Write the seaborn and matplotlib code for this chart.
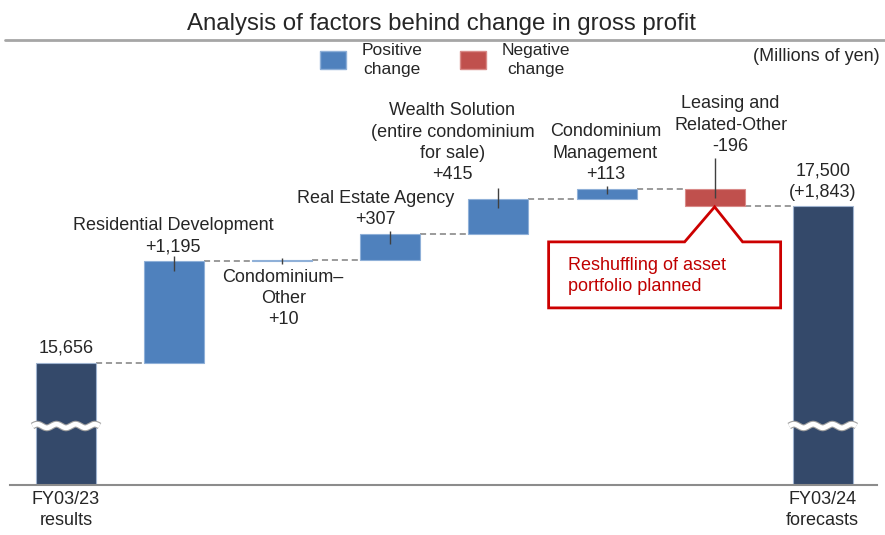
import numpy as np
import matplotlib
matplotlib.use("Agg")
import matplotlib.pyplot as plt
from matplotlib.patches import Polygon, Patch
from matplotlib.lines import Line2D
import seaborn as sns

# data
steps = [
    "FY03/23 results",
    "Residential Development",
    "Condominium–Other",
    "Real Estate Agency",
    "Wealth Solution",
    "Condominium Management",
    "Leasing and Related-Other",
    "FY03/24 forecasts",
]
start_value = 15656
changes = [1195, 10, 307, 415, 113, -196]
end_value = 17500

change_labels = [
    "Residential Development\n+1,195",
    "Condominium–\nOther\n+10",
    "Real Estate Agency\n+307",
    "Wealth Solution\n(entire condominium\nfor sale)\n+415",
    "Condominium\nManagement\n+113",
    "Leasing and\nRelated-Other\n-196",
]
total_labels = ["15,656", "17,500\n(+1,843)"]
tick_labels = ["FY03/23\nresults", "", "", "", "", "", "", "FY03/24\nforecasts"]

NAVY = "#34496A"
BLUE = "#4F81BD"
RED = "#C0504D"
TXT = "#262626"
GREY = "#808080"
CALLOUT = "#CC0000"

# waterfall geometry (the value axis is broken, bars start at `floor`)
floor = 14224
levels = np.concatenate([[start_value], start_value + np.cumsum(changes)])
bottoms = np.array([floor] + [min(levels[i], levels[i + 1]) for i in range(len(changes))] + [floor])
heights = np.array([start_value - floor] + [abs(c) for c in changes] + [end_value - floor])
tops = bottoms + heights
colors = [NAVY] + [BLUE if c > 0 else RED for c in changes] + [NAVY]

sns.set_theme(style="white")
plt.rcParams["font.family"] = ["Liberation Sans", "DejaVu Sans"]

W, H = 885, 535
fig = plt.figure(figsize=(W / 100, H / 100), dpi=100)
ax = fig.add_axes([10 / W, 50 / H, 867 / W, 485 / H])

bar_w = 0.555
sns.barplot(x=steps, y=heights, bottom=bottoms, width=bar_w, color=BLUE,
            errorbar=None, ax=ax, zorder=3)
for p, c in zip(ax.patches, colors):
    p.set_facecolor(c)
    p.set_edgecolor("#9FB3CF" if c == NAVY else "#8FB0D8" if c == BLUE else "#D98A88")
    p.set_linewidth(0.8)

# scale: pixels -> data units
ypx = 1 / 0.0852
xpx = 1 / 108.1
ax.set_xlim(-0.518, 7.502)
ax.set_ylim(floor, floor + 485 * ypx)

# dashed connectors
x0 = np.arange(len(levels)) + bar_w / 2
x1 = np.arange(1, len(levels) + 1) - bar_w / 2
ax.hlines(levels, x0, x1, colors=GREY, linestyles=(0, (4, 2.5)), lw=1.1, zorder=2)

# leader lines from labels into the bars
up_px = [5, 2, 3, 11, 3, 31]
for k in range(len(changes)):
    i = k + 1
    top = tops[i]
    hpx = heights[i] / ypx
    down = max(min(9.5, hpx / 2), 4)
    ax.vlines(i, top - down * ypx, top + up_px[k] * ypx, colors="#404040", lw=1, zorder=4)

LS = 1.33
# change labels
dx_px = [-1, 1, -15, -46, -1, 16]
dy_px = [25, -38, 25.5, 56, 36, 64]
for k, lab in enumerate(change_labels):
    i = k + 1
    ax.text(i + dx_px[k] * xpx, tops[i] + dy_px[k] * ypx, lab, ha="center", va="center",
            fontsize=13, color=TXT, linespacing=LS, zorder=5)

# total labels
ax.text(0, tops[0] + 15 * ypx, total_labels[0], ha="center", va="center", fontsize=13, color=TXT)
ax.text(7, tops[7] + 24.5 * ypx, total_labels[1], ha="center", va="center", fontsize=13,
        color=TXT, linespacing=LS)

# axis break marks on the total bars
brk = floor + 59 * ypx
for i in (0, 7):
    xs = np.linspace(i - 0.31, i + 0.31, 200)
    ys = brk + 1.8 * ypx * np.sin((xs - i + 0.31) / 0.62 * 3.5 * 2 * np.pi)
    ax.plot(xs, ys, color="#A0A0A0", lw=5.0, zorder=6, solid_capstyle="butt")
    ax.plot(xs, ys, color="white", lw=3.4, zorder=7, solid_capstyle="butt")

# callout
tipx, tipy = 6, bottoms[6] - 1 * ypx
pts = [(-166, 35), (-30, 35), (0, 0), (28, 35), (66, 35), (66, 101), (-166, 101)]
poly = Polygon([(tipx + a * xpx, tipy - b * ypx) for a, b in pts], closed=True,
               facecolor="white", edgecolor=CALLOUT, lw=2, zorder=8, joinstyle="miter")
ax.add_patch(poly)
ax.text(tipx - 147 * xpx, tipy - 69 * ypx, "Reshuffling of asset\nportfolio planned",
        ha="left", va="center", fontsize=13, color="#C00000", linespacing=LS, zorder=9)

# axes styling
ax.set_yticks([])
ax.set_xticks(range(len(steps)))
ax.set_xticklabels(tick_labels, fontsize=13, color=TXT, linespacing=LS)
ax.tick_params(axis="x", length=0, pad=4)
for s in ["top", "left", "right"]:
    ax.spines[s].set_visible(False)
ax.spines["bottom"].set_color("#8C8C8C")
ax.spines["bottom"].set_linewidth(1.5)
ax.spines["bottom"].set_zorder(5)
ax.set_xlabel("")
ax.set_ylabel("")

# header
fig.text(441 / W, 1 - 24 / H, "Analysis of factors behind change in gross profit",
         ha="center", va="center", fontsize=17.3, color=TXT)
fig.add_artist(Line2D([5 / W, 1], [1 - 40 / H, 1 - 40 / H], color="#A6A6A6", lw=2))
fig.text(880 / W, 1 - 57 / H, "(Millions of yen)", ha="right", va="center",
         fontsize=13, color=TXT)
handles = [Patch(facecolor=BLUE, edgecolor="#8FB0D8"), Patch(facecolor=RED, edgecolor="#D98A88")]
leg = fig.legend(handles, ["Positive\nchange", "Negative\nchange"], loc="center",
                 bbox_to_anchor=(445 / W, 1 - 60 / H), ncol=2, frameon=False, fontsize=12.5,
                 handlelength=1.5, handleheight=1.25, handletextpad=0.9, columnspacing=2.2,
                 labelcolor=TXT)
for t in leg.get_texts():
    t.set_linespacing(1.4)
    t.set_multialignment("center")

fig.savefig("out.png", dpi=100)
